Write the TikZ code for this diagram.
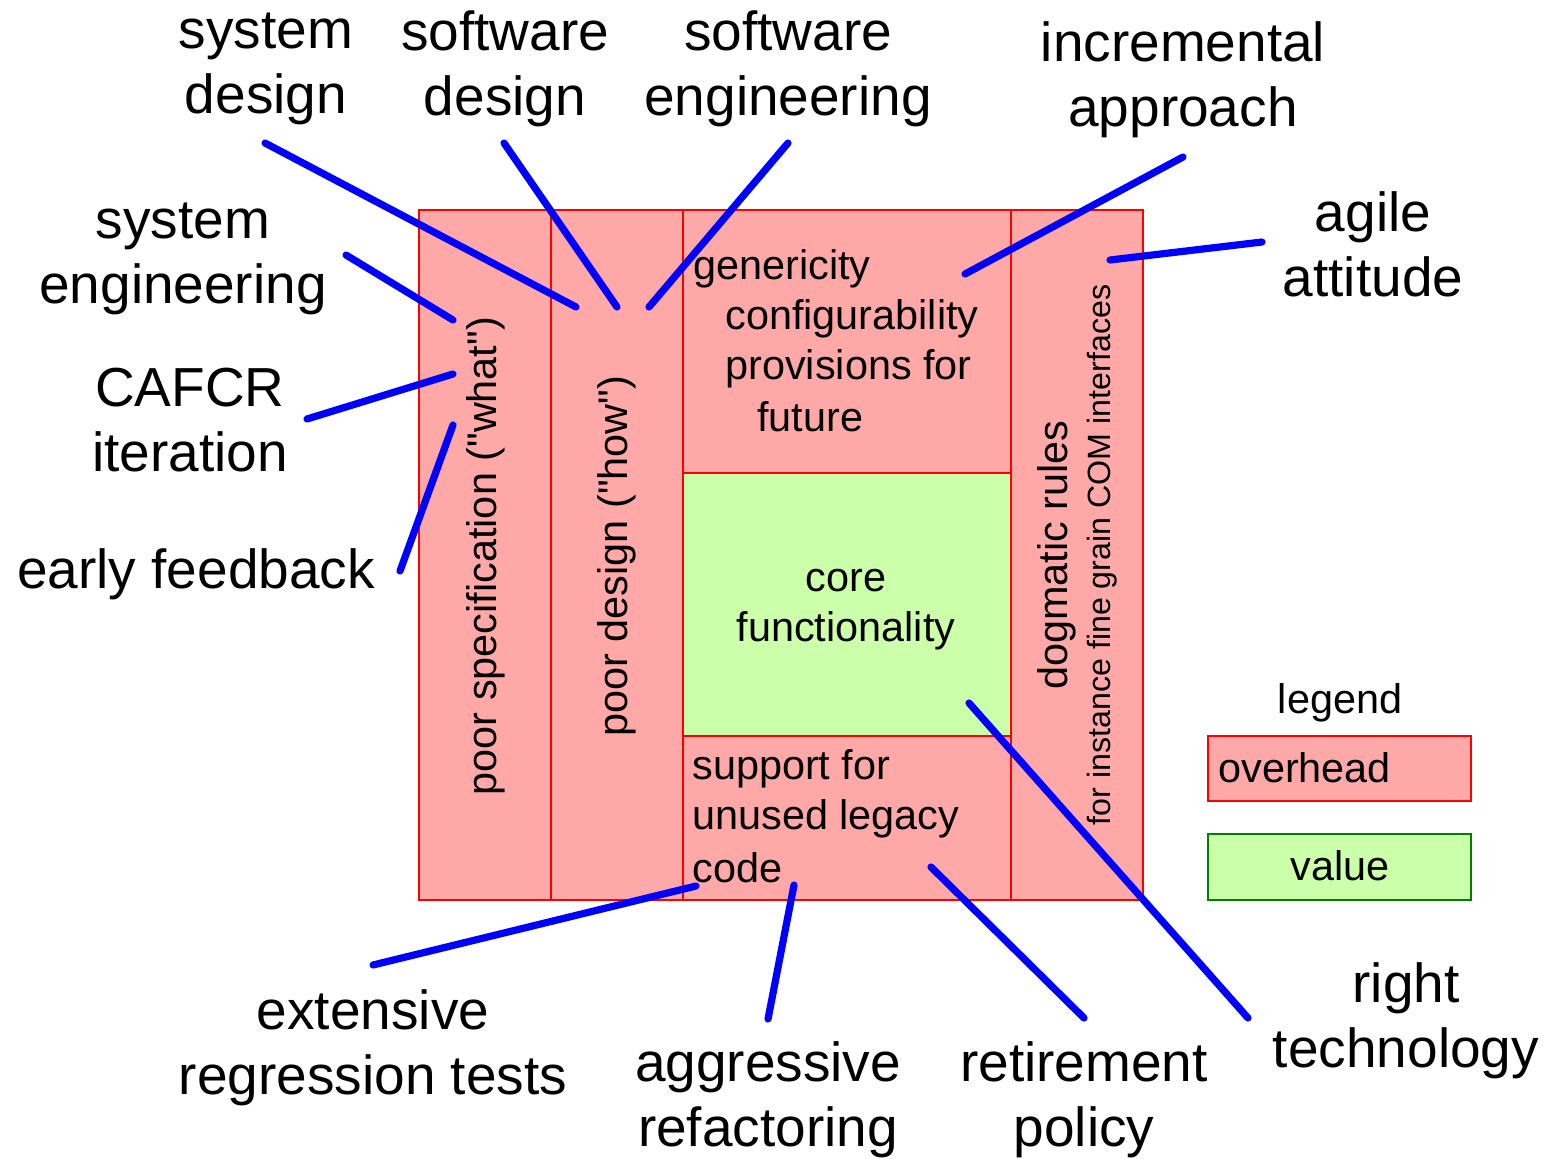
\documentclass[tikz,border=0pt]{standalone}
\usepackage{fontspec}
\setmainfont{Liberation Sans}
\begin{document}
\begin{tikzpicture}[x=0.5pt,y=-0.5pt,
  big/.style={font=\fontsize{27.5}{32.5}\selectfont, align=center, inner sep=0pt},
  mid/.style={font=\fontsize{20.7}{25}\selectfont, inner sep=0pt},
  small/.style={font=\fontsize{16.1}{19}\selectfont, inner sep=0pt},
  overhead/.style={draw=red, fill=pinkfill, line width=0.8pt},
  valuebox/.style={draw=red, fill=greenfill, line width=0.8pt},
  pointer/.style={draw=blue, line width=3.6pt, line cap=round}]
\definecolor{pinkfill}{HTML}{FFA8A8}
\definecolor{greenfill}{HTML}{CCFFAA}
\definecolor{legendgreen}{HTML}{008000}
\useasboundingbox (0,0) rectangle (1543,1158);

% blocks of the code base
\draw[overhead] (419,210) rectangle (551,900);
\draw[overhead] (551,210) rectangle (683,900);
\draw[overhead] (683,210) rectangle (1011,473);
\draw[valuebox] (683,473) rectangle (1011,736);
\draw[overhead] (683,736) rectangle (1011,900);
\draw[overhead] (1011,210) rectangle (1143,900);

% texts inside the blocks
\node[mid, rotate=90] (spec) at (486,556) {poor specification (\textquotedbl what\textquotedbl)};
\node[mid, rotate=90] (pdesign) at (617,556) {poor design (\textquotedbl how\textquotedbl)};
\node[mid, anchor=west] (gen) at (693,269) {genericity};
\node[mid, anchor=west] (conf) at (725,319) {configurability};
\node[mid, anchor=west] (prov) at (725,369) {provisions for};
\node[mid, anchor=west] (fut) at (757,417) {future};
\node[mid, align=center] (core) at (846,610) {core\\functionality};
\node[mid, anchor=west] (sup) at (692,769) {support for};
\node[mid, anchor=west] (unused) at (692,819) {unused legacy};
\node[mid, anchor=west] (code) at (692,868) {code};
\node[mid, rotate=90] (dogma) at (1057,555) {dogmatic rules};
\node[small, rotate=90] (com) at (1102,555) {for instance fine grain COM interfaces};

% legend
\node[mid] (legend) at (1340,703) {legend};
\draw[overhead] (1208,736) rectangle (1471,801);
\node[mid, anchor=west] (lover) at (1218,768) {overhead};
\draw[valuebox, draw=legendgreen] (1208,834) rectangle (1471,900);
\node[mid] (lvalue) at (1340,866) {value};

% remedies
\node[big] (sysdes) at (266,69) {system\\design};
\node[big] (swdes) at (505,69) {software\\design};
\node[big] (sweng) at (788,69) {software\\engineering};
\node[big] (incr) at (1183,80) {incremental\\approach};
\node[big] (agile) at (1373,244) {agile\\attitude};
\node[big] (syseng) at (183,259) {system\\engineering};
\node[big] (cafcr) at (190,420) {CAFCR\\iteration};
\node[big] (early) at (196,574) {early feedback};
\node[big] (regr) at (373,1048) {extensive\\regression tests};
\node[big] (refac) at (768,1100) {aggressive\\refactoring};
\node[big] (retire) at (1084,1100) {retirement\\policy};
\node[big] (tech) at (1406,1021) {right\\technology};

% pointer ends
\coordinate (a1) at (265,143);  \coordinate (b1) at (576,307);
\coordinate (a2) at (504,143);  \coordinate (b2) at (617,307);
\coordinate (a3) at (788,143);  \coordinate (b3) at (649,307);
\coordinate (a4) at (1183,157); \coordinate (b4) at (965,274);
\coordinate (a5) at (1262,242); \coordinate (b5) at (1110,260);
\coordinate (a6) at (346,255);  \coordinate (b6) at (453,320);
\coordinate (a7) at (307,419);  \coordinate (b7) at (453,374);
\coordinate (a8) at (400,571);  \coordinate (b8) at (453,425);
\coordinate (a9) at (373,965);  \coordinate (b9) at (696,886);
\coordinate (a10) at (768,1019); \coordinate (b10) at (794,885);
\coordinate (a11) at (1084,1018); \coordinate (b11) at (931,867);
\coordinate (a12) at (1248,1018); \coordinate (b12) at (969,703);

\foreach \i in {1,...,12} \draw[pointer] (a\i) -- (b\i);
\end{tikzpicture}
\end{document}
